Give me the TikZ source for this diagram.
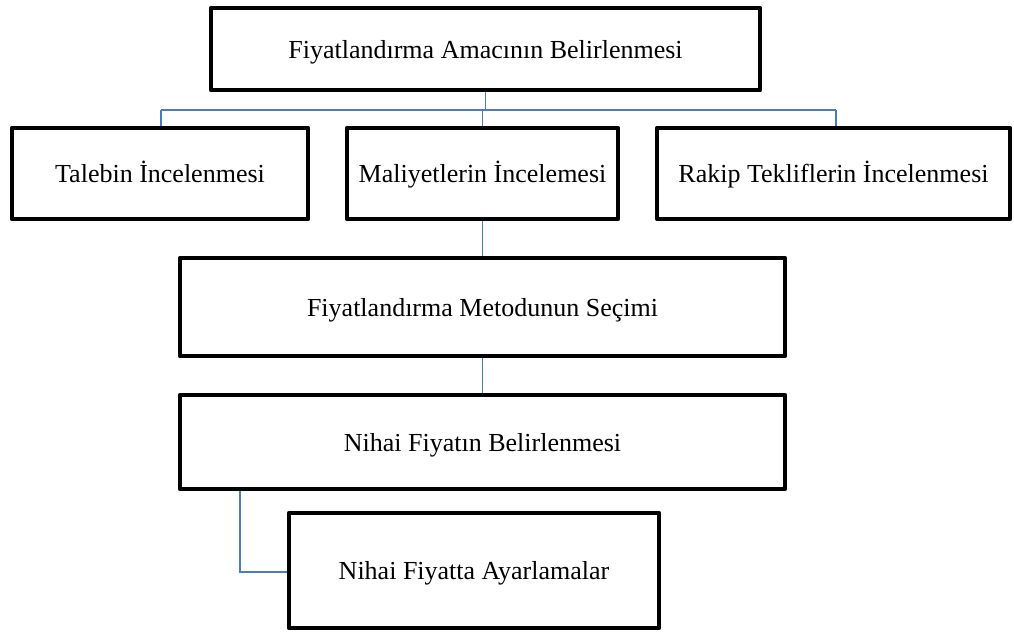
\documentclass[tikz,border=0pt]{standalone}
\usepackage{fontspec}
\setmainfont{Liberation Serif}
\usetikzlibrary{backgrounds}
\definecolor{linkblue}{HTML}{4A7EBB}
\tikzset{
  stage/.style={draw=black, line width=4.5pt, line join=round, fill=white,
    inner sep=0pt, font=\fontsize{26}{30}\selectfont, text=black,
    text height=24pt, text depth=5.5pt},
  link/.style={draw=linkblue, line width=1.5pt}
}
\begin{document}
\begin{tikzpicture}[x=1pt,y=-1pt]
\useasboundingbox (0,0) rectangle (1014,632);
% stages of the pricing process
\node[stage, minimum width=549pt, minimum height=82pt] (goal) at (485.5,49) {Fiyatlandırma Amacının Belirlenmesi};
\node[stage, minimum width=296pt, minimum height=91pt] (demand) at (160,173.5) {Talebin İncelenmesi};
\node[stage, minimum width=271pt, minimum height=91pt] (cost) at (482.5,173.5) {Maliyetlerin İncelemesi};
\node[stage, minimum width=353pt, minimum height=91pt] (rival) at (833.5,173.5) {Rakip Tekliflerin İncelenmesi};
\node[stage, minimum width=605pt, minimum height=98pt] (method) at (482.5,307) {Fiyatlandırma Metodunun Seçimi};
\node[stage, minimum width=605pt, minimum height=94pt] (final) at (482.5,442) {Nihai Fiyatın Belirlenmesi};
\node[stage, minimum width=370pt, minimum height=115pt] (adjust) at (474,570.5) {Nihai Fiyatta Ayarlamalar};
% connectors
\coordinate (busL) at (161,110);
\coordinate (busR) at (836,110);
\coordinate (elbow) at (240,572);
\begin{scope}[on background layer]
\draw[link] (goal.south) -- (goal.south |- busL);
\draw[link] (busL) -- (busR);
\draw[link] (busL) -- (busL |- demand.north);
\draw[link] (cost.north |- busL) -- (cost.north);
\draw[link] (busR) -- (busR |- rival.north);
\draw[link] (cost.south) -- (cost.south |- method.north);
\draw[link] (method.south) -- (final.north);
\draw[link] (elbow |- final.south) -- (elbow) -- (adjust.west |- elbow);
\end{scope}
\end{tikzpicture}
\end{document}
